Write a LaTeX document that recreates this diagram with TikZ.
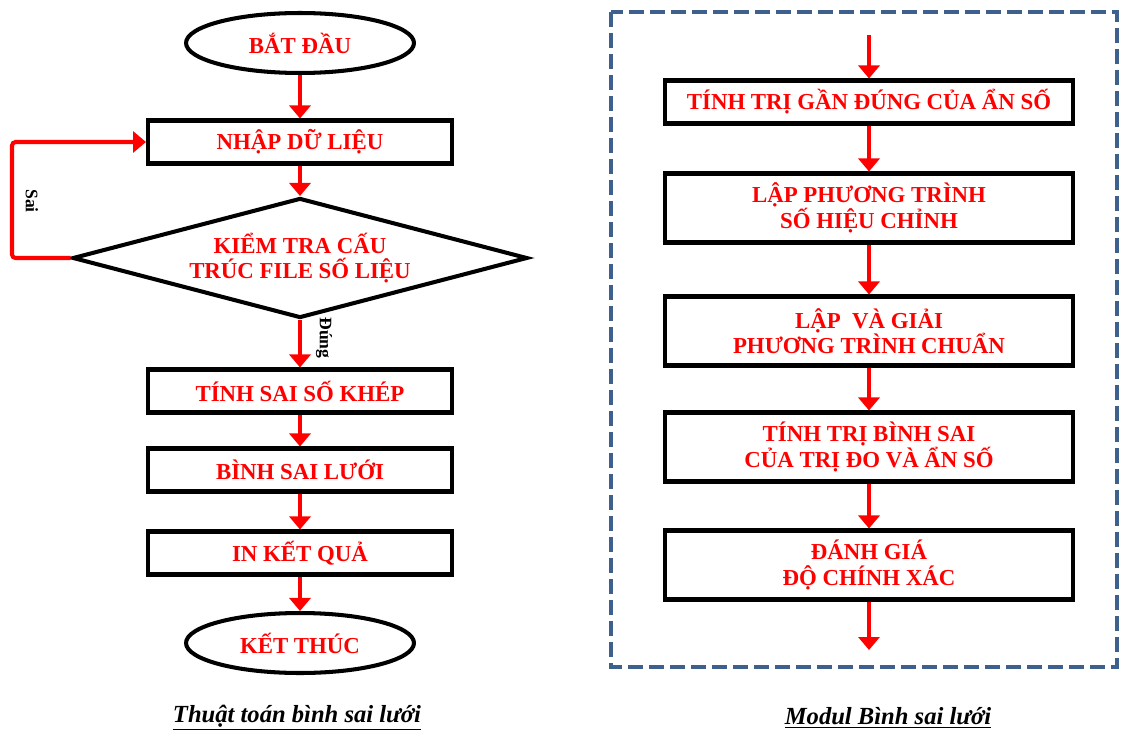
\documentclass[tikz,border=0pt]{standalone}
\usepackage{fontspec}
\setmainfont{Liberation Serif}
\usetikzlibrary{shapes.geometric,arrows.meta}
\definecolor{frameblue}{RGB}{62,96,140}
\begin{document}
\begin{tikzpicture}[x=0.02cm,y=-0.02cm,
        every node/.style={text=red,font=\fontsize{13}{14.5}\selectfont\bfseries},
        buoc/.style={draw=black,line width=2.3pt,rectangle,align=center,minimum width=6.08cm,minimum height=0.86cm,inner sep=1pt},
        buocphai/.style={buoc,minimum width=8.16cm,minimum height=1.38cm},
        dautron/.style={draw=black,line width=2.3pt,ellipse,minimum width=4.56cm,minimum height=1.2cm,inner sep=1pt},
        kiemtra/.style={draw=black,line width=2.3pt,diamond,aspect=3.8,align=center,minimum width=9.1cm,minimum height=2.4cm,inner sep=0pt},
        mui/.style={draw=red,line width=2.3pt,-{Triangle[length=0.26cm,width=0.42cm]}},
        nhan/.style={text=black,font=\normalsize\bfseries},
        tieude/.style={text=black,font=\fontsize{14}{16}\selectfont\bfseries\itshape}]
        \useasboundingbox (0,0) rectangle (1121,740);
        % thuat toan binh sai luoi
        \node[dautron] (batdau) at (300,43) {BẮT ĐẦU};
        \node[buoc] (nhap) at (300,142) {NHẬP DỮ LIỆU};
        \node[kiemtra] (kt) at (300,258) {KIỂM TRA CẤU\\TRÚC FILE SỐ LIỆU};
        \node[buoc] (khep) at (300,391) {TÍNH SAI SỐ KHÉP};
        \node[buoc] (bsl) at (300,470) {BÌNH SAI LƯỚI};
        \node[buoc] (inkq) at (300,553) {IN KẾT QUẢ};
        \node[dautron] (ketthuc) at (300,643) {KẾT THÚC};
        \draw[mui] (batdau) -- (nhap);
        \draw[mui] (nhap) -- (kt);
        \draw[mui] (kt) -- (khep);
        \draw[mui] (khep) -- (bsl);
        \draw[mui] (bsl) -- (inkq);
        \draw[mui] (inkq) -- (ketthuc);
        \coordinate (vong) at (12,258);
        \draw[mui,rounded corners=2pt] (kt.west) -- (vong) |- (nhap.west);
        \node[nhan,rotate=-90] (sai) at (32,201) {Sai};
        \node[nhan,rotate=-90] (dung) at (324,338) {Đúng};
        \node[tieude] (tt) at (297,718) {\underline{Thuật toán bình sai lưới}};
        % modul binh sai luoi
        \draw[frameblue,line width=2.3pt,dash pattern=on 0.3cm off 0.12cm] (611,12) rectangle (1117,667);
        \coordinate (vao) at (869,35);
        \coordinate (ra) at (869,650);
        \node[buoc,minimum width=8.16cm] (gandung) at (869,102) {TÍNH TRỊ GẦN ĐÚNG CỦA ẨN SỐ};
        \node[buocphai] (shc) at (869,208) {LẬP PHƯƠNG TRÌNH\\SỐ HIỆU CHỈNH};
        \node[buocphai] (chuan) at (869,331) {LẬP \ VÀ GIẢI\\PHƯƠNG TRÌNH CHUẨN};
        \node[buocphai] (trido) at (869,447) {TÍNH TRỊ BÌNH SAI\\CỦA TRỊ ĐO VÀ ẨN SỐ};
        \node[buocphai] (danhgia) at (869,565) {ĐÁNH GIÁ\\ĐỘ CHÍNH XÁC};
        \draw[mui] (vao) -- (gandung);
        \draw[mui] (gandung) -- (shc);
        \draw[mui] (shc) -- (chuan);
        \draw[mui] (chuan) -- (trido);
        \draw[mui] (trido) -- (danhgia);
        \draw[mui] (danhgia) -- (ra);
        \node[tieude] (md) at (888,718) {\underline{Modul Bình sai lưới}};
\end{tikzpicture}
\end{document}
